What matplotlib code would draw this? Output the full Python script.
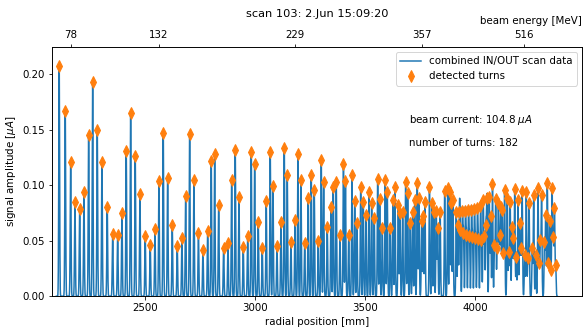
import numpy as np
import matplotlib
matplotlib.use("Agg")
import matplotlib.pyplot as plt

# ---------------- data ----------------
turn_pos_mm = [
    2108.0, 2135.5, 2160.0, 2179.6, 2201.0, 2220.5, 2241.8, 2260.0, 2281.0, 2302.3,
    2326.4, 2351.0, 2373.6, 2393.2, 2412.7, 2432.7, 2453.6, 2475.0, 2499.0, 2521.8,
    2543.2, 2561.4, 2580.9, 2600.9, 2621.8, 2644.5, 2665.9, 2682.7, 2700.9, 2720.4,
    2740.9, 2761.3, 2782.7, 2799.0, 2814.5, 2832.7, 2855.4, 2875.0, 2891.8, 2908.1,
    2925.0, 2944.5, 2964.5, 2980.9, 2996.3, 3012.7, 3030.9, 3049.0, 3067.2, 3079.5,
    3097.7, 3115.9, 3130.9, 3144.5, 3161.3, 3179.5, 3193.1, 3206.7, 3223.6, 3239.9,
    3253.6, 3267.2, 3285.4, 3299.0, 3309.9, 3326.3, 3343.1, 3353.6, 3367.2, 3384.0,
    3399.9, 3409.0, 3423.6, 3438.6, 3450.8, 3461.3, 3478.1, 3489.9, 3502.2, 3515.8,
    3528.1, 3539.9, 3555.4, 3564.5, 3576.3, 3589.9, 3599.0, 3612.6, 3624.9, 3634.0,
    3649.0, 3656.7, 3669.0, 3682.6, 3691.7, 3703.5, 3714.4, 3723.5, 3735.4,
    3743.1, 3755.3, 3762.6, 3770.3, 3790.8, 3802.1, 3811.2, 3821.7, 3828.1, 3839.4,
    3859.9, 3873.5, 3882.6, 3889.9, 3897.6, 3912.6, 3920.3, 3927.1, 3930.8, 3940.8,
    3945.3, 3954.4, 3958.9, 3968.0, 3972.6, 3981.7, 3986.2, 3995.3, 3999.9, 4008.9,
    4013.5, 4022.6, 4027.1, 4035.3, 4040.8,
    4047.6, 4052.1, 4062.6, 4069.0, 4077.2, 4086.2, 4091.7, 4098.5, 4104.0, 4109.4,
    4114.9, 4121.2, 4126.7, 4132.1, 4144.4, 4151.2, 4157.6, 4165.8, 4171.7, 4178.1,
    4185.4, 4193.0, 4200.7, 4206.2, 4212.1, 4223.5, 4230.8, 4238.0, 4243.5, 4258.0,
    4264.4, 4273.5, 4284.0, 4289.4, 4294.9, 4300.3, 4313.5, 4319.0, 4326.3, 4331.7,
    4337.2, 4342.6, 4348.1, 4353.5, 4359.0, 4364.4,
]
turn_amp_uA = [
    0.2077, 0.1668, 0.1206, 0.0851, 0.0786, 0.0936, 0.1452, 0.1927, 0.1497, 0.1212,
    0.0806, 0.0558, 0.0551, 0.0747, 0.1311, 0.1650, 0.1263, 0.0923, 0.0542, 0.0459,
    0.0603, 0.1041, 0.1470, 0.1062, 0.0639, 0.0455, 0.0524, 0.0905, 0.1459, 0.1044,
    0.0571, 0.0419, 0.0587, 0.1221, 0.1281, 0.0819, 0.0437, 0.0479, 0.1050, 0.1320,
    0.0891, 0.0443, 0.0540, 0.1302, 0.1188, 0.0666, 0.0437, 0.0855, 0.1302, 0.0997,
    0.0452, 0.0666, 0.1338, 0.1092, 0.0491, 0.0684, 0.1284, 0.1047, 0.0477, 0.0887,
    0.1089, 0.0959, 0.0495, 0.1224, 0.1032, 0.0621, 0.0801, 0.0984, 0.1026, 0.0549,
    0.1193, 0.1038, 0.0549, 0.1092, 0.0860, 0.0662, 0.0981, 0.0851, 0.0729, 0.0941,
    0.0837, 0.0707, 0.1056, 0.0876, 0.0617, 0.1050, 0.0941, 0.0612, 0.0867, 0.0981,
    0.0822, 0.0747, 0.0761, 0.1029, 0.0932, 0.0657, 0.0756, 0.0869, 0.1017,
    0.0888, 0.0680, 0.0723, 0.0851, 0.0985, 0.0837, 0.0761, 0.0768, 0.0617, 0.0760,
    0.0950, 0.0975, 0.0941, 0.0837, 0.0867, 0.0761, 0.0640, 0.0762, 0.0596, 0.0766,
    0.0570, 0.0770, 0.0555, 0.0775, 0.0545, 0.0780, 0.0535, 0.0786, 0.0525, 0.0795,
    0.0515, 0.0815, 0.0505, 0.0867, 0.0540,
    0.0641, 0.0882, 0.0896, 0.0723, 0.1015, 0.0461, 0.0876, 0.0431, 0.0837, 0.0551,
    0.0807, 0.0777, 0.0386, 0.0960, 0.0888, 0.0401, 0.0852, 0.0626, 0.0527, 0.0963,
    0.0356, 0.0864, 0.0657, 0.0437, 0.0951, 0.0371, 0.0942, 0.0341, 0.0837, 0.0437,
    0.0912, 0.0371, 0.0972, 0.0296, 0.0506, 0.0912, 0.0491, 0.0732, 0.1023, 0.0296,
    0.0680, 0.0236, 0.0972, 0.0536, 0.0792, 0.0281,
]
energy_tick_mm = [2159.5, 2561.0, 3178.6, 3757.0, 4220.0]
energy_tick_labels = ["78", "132", "229", "357", "516"]

scan_range_mm = (2095.0, 4372.0)
peak_width_mm = 1.9
beam_current_uA = 104.8
n_turns = 182
title = "scan 103: 2.Jun 15:09:20"

# ---------------- build combined scan signal from the turns ----------------
pos = np.asarray(turn_pos_mm)
amp = np.asarray(turn_amp_uA)
r = np.arange(scan_range_mm[0], scan_range_mm[1], 0.5)
signal = (amp[None, :] * np.exp(-0.5 * ((r[:, None] - pos[None, :]) / peak_width_mm) ** 2)).sum(axis=1)

# ---------------- figure ----------------
plt.rcParams["font.size"] = 10.3
W, H, DPI = 583, 327, 72
fig = plt.figure(figsize=(W / DPI, H / DPI), dpi=DPI)
L, R, B, T = 51.7, 582.0, 296.2, 47.0
ax = fig.add_axes([L / W, 1 - B / H, (R - L) / W, (B - T) / H])

ax.plot(r, signal, color="#1f77b4", lw=1.5, label="combined IN/OUT scan data")
ax.plot(pos, amp, ls="none", marker="d", ms=8, color="#ff7f0e", label="detected turns")

ax.set_xlim(2074, 4484)
ax.set_ylim(0, 0.2245)
ax.set_yticks([0.0, 0.05, 0.10, 0.15, 0.20])
ax.set_xlabel("radial position [mm]")
ax.set_ylabel(r"signal amplitude [$\mu A$]")
ax.legend(loc="upper right")

ax.text(0.674, 0.707, r"beam current: %.1f $\mu A$" % beam_current_uA,
        transform=ax.transAxes, va="center", ha="left")
ax.text(0.674, 0.616, "number of turns: %d" % n_turns,
        transform=ax.transAxes, va="center", ha="left")

ax2 = ax.twiny()
ax2.set_xlim(ax.get_xlim())
ax2.set_xticks(energy_tick_mm)
ax2.set_xticklabels(energy_tick_labels)
ax2.set_xlabel("beam energy [MeV]", loc="right", labelpad=5.5)

fig.text((L + R) / 2 / W, 1 - 13.8 / H, title, ha="center", va="center", fontsize=11.4)

fig.savefig("out.png", dpi=DPI)
